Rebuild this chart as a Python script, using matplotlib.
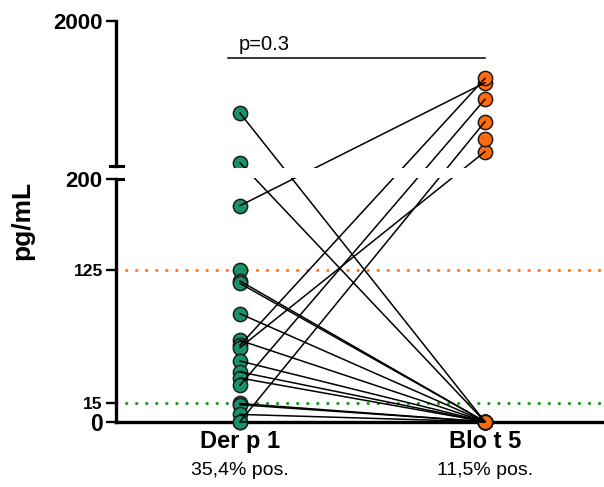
import numpy as np
import matplotlib
matplotlib.use("Agg")
import matplotlib.pyplot as plt
from matplotlib.patches import Rectangle
import matplotlib.transforms as mtransforms

plt.rcParams['font.family'] = ['Liberation Sans', 'DejaVu Sans']

# paired concentrations (pg/mL) per subject; nan = value not available
der_p1 = [854, 237, 178, 125, 116, 114, 89, 67, 63, 61, 50, 41, 36, 30, 15, 14, 6, 0, 0, np.nan]
blo_t5 = [0, 0, 1230, np.nan, 0, 0, 0, 0, 1284, 374, 0, 0, 0, 1024, 0, 0, 0, 746, 0, 528]

groups = ['Der p 1', 'Blo t 5']
pos_rates = ['35,4% pos.', '11,5% pos.']
cutoffs = {'Der p 1': 15, 'Blo t 5': 125}
p_text = 'p=0.3'

y_ticks = [0, 15, 125, 200, 2000]
y_tick_sizes = [16.5, 12.5, 12.5, 16, 16]

green = '#17936a'
orange = '#ff6a0a'

# segmented y axis: 0-200 linear (lower), 200-2000 linear (upper), small gap between
LOW_K = 242.7 / 200
GAP_LO, GAP_HI = 242.7, 256.0
UP_K = (401.0 - GAP_HI) / 1800


def forward(v):
    v = np.asarray(v, dtype=float)
    return np.where(v <= 200, v * LOW_K, GAP_HI + (v - 200) * UP_K)


def inverse(y):
    y = np.asarray(y, dtype=float)
    return np.where(y <= GAP_LO, y / LOW_K,
                    np.where(y < GAP_HI, 200.0, 200 + (y - GAP_HI) / UP_K))


fig = plt.figure(figsize=(6.04, 4.87), dpi=100)
ax = fig.add_axes([116 / 604, (487 - 421.7) / 487, (604 - 116) / 604, (421.7 - 20.7) / 487])
ax.set_yscale('function', functions=(forward, inverse))
ax.set_ylim(0, 2000)
ax.set_xlim(-0.506, 1.486)

x = np.array([0, 1])

# cut-off lines (round dots)
ax.axhline(cutoffs['Blo t 5'], color='#ff7a26', lw=2.3, ls=(0, (0.05, 3.1)),
           dash_capstyle='round', zorder=1)
ax.axhline(cutoffs['Der p 1'], color='#1f9a1f', lw=2.3, ls=(0, (0.05, 3.1)),
           dash_capstyle='round', zorder=1)

# points
ax.scatter(np.zeros(len(der_p1)), der_p1, s=105, color=green, edgecolor='#1a1a1a',
           linewidth=1.1, zorder=3, clip_on=False)
ax.scatter(np.ones(len(blo_t5)), blo_t5, s=105, color=orange, edgecolor='#1a1a1a',
           linewidth=1.1, zorder=3, clip_on=False)

# before-after lines drawn over the markers
for a, b in zip(der_p1, blo_t5):
    if np.isnan(a) or np.isnan(b):
        continue
    ax.plot(x, [a, b], color='black', lw=1.1, zorder=4, clip_on=False)

# white band where the axis is broken
total = float(forward(2000))
ax.add_patch(Rectangle((0, (GAP_LO + 1.2) / total), 1.2, (GAP_HI - GAP_LO - 3.2) / total,
                       transform=ax.transAxes, facecolor='white', edgecolor='none',
                       zorder=5, clip_on=False))

# spines
for s in ['top', 'right', 'left']:
    ax.spines[s].set_visible(False)
ax.spines['bottom'].set_linewidth(2.4)

ytrans = mtransforms.blended_transform_factory(ax.transAxes, ax.transData)
cap = 6.5 / 488
eps = 1e-6
ax.plot([0, 0], [0, 200], color='black', lw=2.4, transform=ytrans, clip_on=False,
        solid_capstyle='projecting', zorder=6)
ax.plot([0, 0], [200 + eps, 2000], color='black', lw=2.4, transform=ytrans, clip_on=False,
        solid_capstyle='projecting', zorder=6)
ax.plot([0, cap], [200, 200], color='black', lw=2.2, transform=ytrans, clip_on=False, zorder=6)
ax.plot([-cap, cap], [200 + eps, 200 + eps], color='black', lw=2.2, transform=ytrans,
        clip_on=False, zorder=6)

ax.set_yticks(y_ticks)
ax.set_yticklabels([str(t) for t in y_ticks])
ax.yaxis.set_minor_locator(matplotlib.ticker.NullLocator())
for lab, fs in zip(ax.get_yticklabels(), y_tick_sizes):
    lab.set_fontsize(fs)
    lab.set_fontweight('bold')
ax.tick_params(axis='y', direction='out', length=7.5, width=1.7, pad=2)

ax.set_xticks(x)
ax.set_xticklabels([])
ax.tick_params(axis='x', direction='out', length=3.5, width=1.6)

for xi, name, rate in zip(x, groups, pos_rates):
    ax.annotate(name, xy=(xi, 0), xycoords=('data', 'axes fraction'),
                xytext=(0, -14), textcoords='offset points', ha='center', va='center',
                fontsize=17, fontweight='bold')
    ax.annotate(rate, xy=(xi, 0), xycoords=('data', 'axes fraction'),
                xytext=(0, -35), textcoords='offset points', ha='center', va='center',
                fontsize=14)

fig.text(22 / 604, 1 - 220 / 487, 'pg/mL', rotation=90, ha='center', va='center',
         fontsize=19, fontweight='bold')

# significance bar
ax.plot([-0.05, 1.0], [1540, 1540], color='black', lw=1.1, zorder=4)
ax.text(0.1, 1710, p_text, ha='center', va='center', fontsize=14.5)

fig.savefig('out.png', dpi=100)
